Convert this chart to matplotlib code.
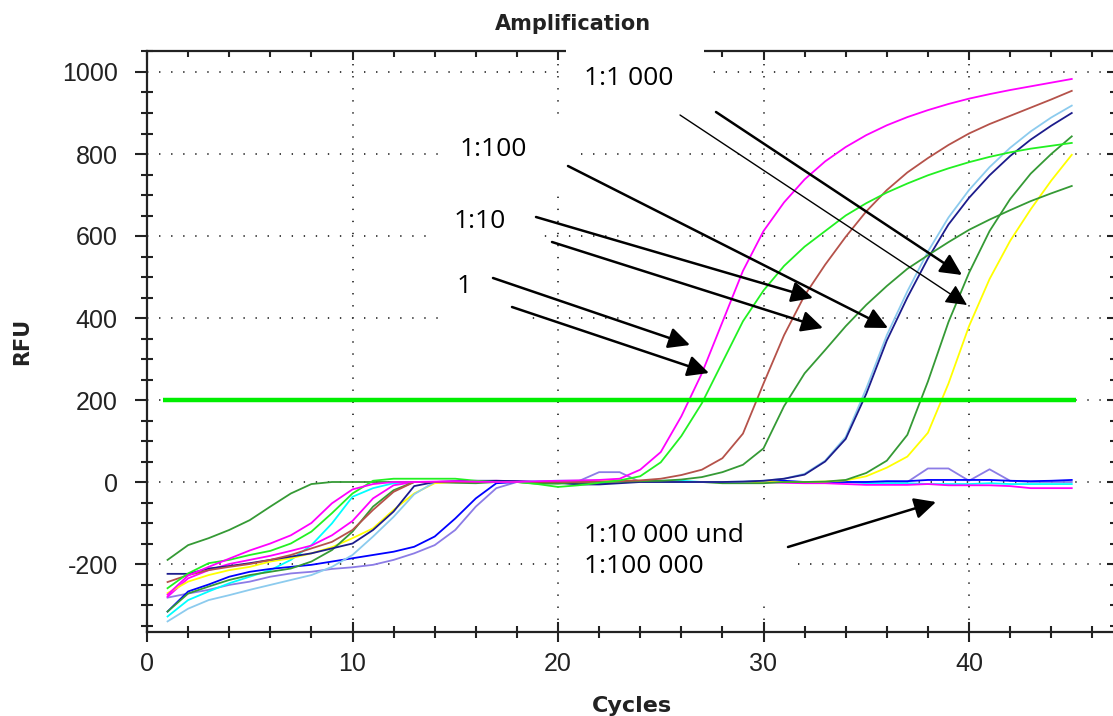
import matplotlib.pyplot as plt
import matplotlib.lines as mlines
from matplotlib.patches import Rectangle

plt.rcParams['axes.unicode_minus'] = False

# amplification data (RFU per cycle, cycles 1..45)
cycles = list(range(1, 46))

magenta = [-275, -228, -207, -187, -167, -150, -130, -100, -52, -18, -5, 0,
           0, 1, 2, 1, 0, 0, 2, 3, 4, 5,
           8, 30, 73, 160, 265, 390, 515, 612, 682, 738, 782, 817, 846, 870,
           890, 907, 922, 935, 946, 956, 965, 974, 983]
lime = [-259, -223, -198, -190, -178, -168, -150, -121, -76, -28, 3,
        8, 8, 8, 8, 3, 0, 0, -5, -12, -8, -2,
        4, 14, 48, 112, 192, 292, 392, 467, 527, 574, 612, 650, 680, 706,
        728, 748, 765, 780, 793, 804, 813, 820, 827]
brown = [-244, -227, -215, -207, -200, -190, -178, -162, -146, -117, -68, -24, 0,
         0, 0, 0, 0, 0, 0, 0, 0, 0, 2,
         4, 8, 17, 30, 58, 118, 240, 358, 455, 530, 598, 660, 712, 755,
         790, 822, 850, 873, 893, 913, 933, 954]
dkgreen = [-190, -154, -137, -117, -93, -60, -28, -5,
           0, 0, 0, 0, 0, 0, -2, -3, 0, 0, -4, -4, 0, 0, 1, 2,
           3, 6, 12, 24, 42, 82, 185, 265, 322, 380, 432, 478, 520, 553,
           585, 615, 640, 663, 685, 704, 722]
navy = [-224, -224, -211, -205, -198, -190, -182, -174, -162, -150, -117, -72, -10,
        0, 2, 3, 3, 2, 0, -2, -6, -6, -3, 0, 0, 0, 0, 0, 1,
        3, 8, 18, 50, 105, 215, 345, 450, 545, 628, 693, 748, 795, 835, 869, 900]
skyblue = [-340, -309, -288, -276, -263, -251, -239, -227, -207, -178, -133, -85, -30,
           0, 0, 0, 0, 0, 0, 0, 0, 0, 0, 0, 0, 0, 0, 0, 1,
           3, 8, 20, 52, 110, 228, 358, 465, 562, 645, 712, 768, 815, 855, 889, 918]
green2 = [-316, -272, -255, -239, -227, -219, -211, -194, -166, -121, -60, -20, 0,
          0, 0, 0, 0, 0, -2, -3, -3, 0, 0, 0, 0, 0, 0, -3, -3, -3, 0, 0,
          1, 5, 22, 52, 115, 245, 390, 510, 612, 690, 752, 800, 843]
yellow = [-271, -243, -227, -215, -207, -194, -186, -174, -159, -137, -113, -68, -28, -3,
          0, 0, 0, 0, 0, 0, 0, 3, 4, 3, 0, 0, 0, 0, 0, 0, 0, 0,
          1, 4, 14, 35, 62, 120, 240, 380, 495, 588, 665, 735, 798]
magenta2 = [-280, -235, -215, -200, -190, -180, -168, -155, -130, -95, -40, -8, 0,
            0, 0, 2, 3, 2, 0, 0, 0, 2, 3, 0, 0, 0, 0, 0, 0, 0, -2, -3, -3, -5, -7, -7,
            -7, -5, -8, -8, -8, -10, -15, -15, -15]
blue = [-316, -267, -250, -231, -219, -212, -207, -202, -194, -186, -178, -170, -158,
        -133, -89, -40, -3,
        0, 0, 0, -3, -3, 0, 0, 0, 0, 0, 0, 0, 2, 3, 0, 0, 0, 0, 2, 2, 5, 5, 5, 5,
        3, 2, 3, 5]
cyan = [-328, -288, -267, -247, -231, -215, -190, -154, -101, -36, -15, -3,
        0, 0, 0, 0, 0, 0, 2, 3, 3, 3, 0, 0, 3, 3, 0, 0, 0, 0, 0, 0, 0, 0,
        -3, -3, -3, -5, -5, -5, -3, -5, -5, -5, -5]
purple = [-282, -272, -263, -251, -243, -231, -223, -219, -212, -208, -202, -190,
          -174, -154, -117, -60, -15,
          0, 0, 0, 2, 24, 24, 0,
          0, 0, 0, 0, 0, 0, 0, 0, 0, 0, 0, 0, 0,
          33, 33, 3, 31, 3, 0, 0, 0]

threshold = 200
xticks = [0, 10, 20, 30, 40]
yticks = [-200, 0, 200, 400, 600, 800, 1000]

curves = [
    (purple, '#8c7ce6'), (cyan, '#00ffff'), (blue, '#0000ff'), (magenta2, '#ff00ff'),
    (yellow, '#ffff00'), (green2, '#359a35'), (skyblue, '#8ccbee'), (navy, '#1c1c8c'),
    (dkgreen, '#359a35'), (brown, '#b5524a'), (lime, '#22f022'), (magenta, '#ff00ff'),
]

# pixel -> data helpers (plot area: x=0 at 147px, 20.55 px/cycle; y=0 at 482px, 0.41 px/RFU)
def dx(px):
    return (px - 147) / 20.55

def dy(py):
    return (482 - py) / 0.41

fig = plt.figure(figsize=(11.13, 7.16), dpi=100)
ax = fig.add_axes([147 / 1113, 84 / 716, (1116 - 147) / 1113, (632 - 51) / 716])
ax.set_xlim(0, dx(1116))
ax.set_ylim(dy(632), dy(51))

for vals, col in curves:
    ax.plot(cycles, vals, color=col, lw=1.3, zorder=2)

ax.hlines(threshold, 0.8, 45.2, color='#00ee00', lw=3.2, zorder=2.2)

ax.grid(True, which='major', linestyle=(0, (0.7, 5.5)), color='#404040', lw=1.4)

ax.set_xticks(xticks)
ax.set_xticks(range(0, 48, 2), minor=True)
ax.set_yticks(yticks)
ax.set_yticks(range(-350, 1051, 50), minor=True)
for s in ax.spines.values():
    s.set_linewidth(1.6)
    s.set_color('#222222')

ax.tick_params(axis='x', which='major', direction='inout', length=14.5, width=1.5,
               pad=7, labelsize=18, top=True, colors='#222222')
ax.tick_params(axis='x', which='minor', direction='inout', length=8, width=1.5, top=True,
               colors='#222222')
ax.tick_params(axis='y', which='major', direction='out', length=9, width=1.5,
               pad=12, labelsize=18, right=True, colors='#222222')
ax.tick_params(axis='y', which='minor', direction='inout', length=8, width=1.5, right=True,
               colors='#222222')
for lab in ax.get_xticklabels() + ax.get_yticklabels():
    lab.set_fontfamily('Liberation Sans')

# ticks on top/right point inward only
for t in ax.xaxis.get_major_ticks():
    t.tick2line.set_marker(mlines.TICKDOWN)
    t.tick2line.set_markersize(6.5)
for t in ax.xaxis.get_minor_ticks():
    t.tick2line.set_marker(mlines.TICKDOWN)
    t.tick2line.set_markersize(4.3)
for t in ax.yaxis.get_major_ticks():
    t.tick2line.set_marker(mlines.TICKLEFT)
    t.tick2line.set_markersize(6.5)
for t in ax.yaxis.get_minor_ticks():
    t.tick2line.set_marker(mlines.TICKLEFT)
    t.tick2line.set_markersize(4.3)

# white label boxes (cover grid and top frame)
boxes = [(566, 704, 38, 110), (440, 572, 120, 188), (428, 537, 200, 246),
         (440, 527, 265, 326), (565, 790, 507, 597)]
for x0, x1, y0, y1 in boxes:
    ax.add_patch(Rectangle((dx(x0), dy(y1)), dx(x1) - dx(x0), dy(y0) - dy(y1),
                           facecolor='white', edgecolor='none', zorder=2.7, clip_on=False))

lab_font = dict(family='Open Sans', fontsize=19, color='black', va='baseline', zorder=5)
ax.text(dx(584), dy(85), '1:1 000', **lab_font)
ax.text(dx(460), dy(156), '1:100', **lab_font)
ax.text(dx(454), dy(228), '1:10', **lab_font)
ax.text(dx(457), dy(293), '1', **lab_font)
ax.text(dx(584), dy(542), '1:10 000 und', **lab_font)
ax.text(dx(584), dy(573), '1:100 000', **lab_font)

arrows = [((680, 115), (967, 305), 1.0), ((716, 112), (962, 275), 1.8),
          ((568, 166), (888, 328), 1.8), ((536, 217), (813, 298), 1.8),
          ((552, 242), (823, 328), 1.8), ((493, 278), (690, 345), 1.8),
          ((512, 307), (709, 373), 1.8), ((788, 547), (936, 502), 1.8)]
for (tx, ty), (hx, hy), w in arrows:
    ax.annotate('', xy=(dx(hx), dy(hy)), xytext=(dx(tx), dy(ty)),
                arrowprops=dict(arrowstyle='-|>,head_length=0.65,head_width=0.32',
                                mutation_scale=20, color='black', lw=w,
                                shrinkA=0, shrinkB=0), zorder=5)

fig.text(573 / 1113, 1 - 30 / 716, 'Amplification', ha='center', va='baseline',
         fontsize=15, fontweight='bold', family='DejaVu Sans', color='#222222')
fig.text(632 / 1113, 1 - 712 / 716, 'Cycles', ha='center', va='baseline',
         fontsize=16, fontweight='bold', family='DejaVu Sans', color='#222222')
fig.text(22 / 1113, 1 - 341 / 716, 'RFU', ha='center', va='center', rotation=90,
         fontsize=15, fontweight='bold', family='DejaVu Sans', color='#222222')

fig.savefig('out.png', dpi=100, facecolor='white')
